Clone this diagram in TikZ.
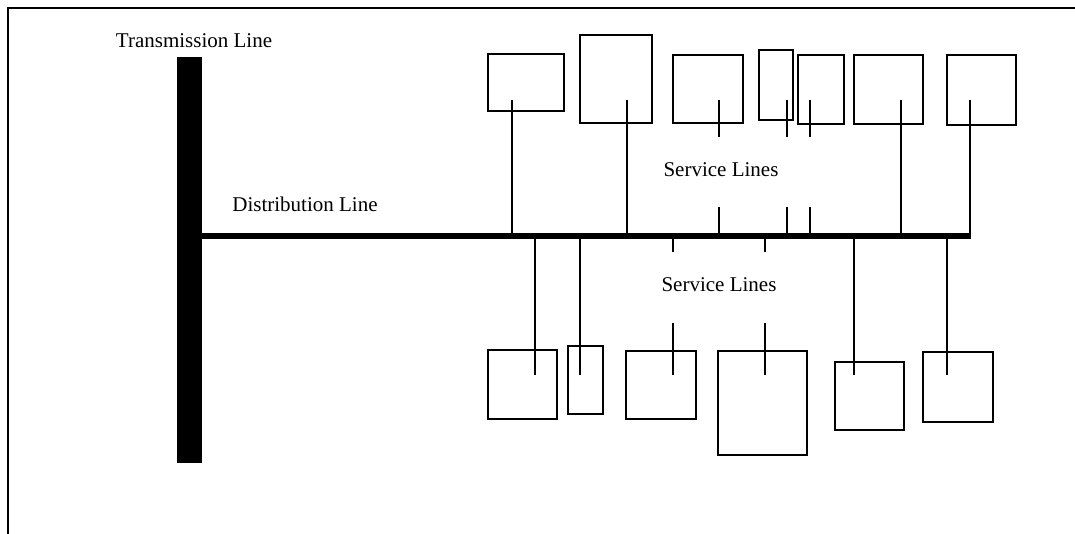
\documentclass[tikz,border=0pt]{standalone}
\usepackage{fontspec}
\setmainfont{Liberation Serif}
\usetikzlibrary{positioning}

\tikzset{
  house/.style={draw, line width=1.5pt, inner sep=0pt, outer sep=0pt},
  svcline/.style={line width=1.6pt},
  distline/.style={line width=6pt},
  lbl/.style={font=\fontsize{21}{25}\selectfont, anchor=base}
}

\begin{document}
\begin{tikzpicture}[x=1pt,y=-1pt]
  \useasboundingbox (0,0) rectangle (1075,534);
  % Frame
  \draw[line width=1.5pt] (8,534) -- (8,8) -- (1075,8);
  % Transmission line
  \node[fill=black, minimum width=25pt, minimum height=406pt, inner sep=0pt] (tline) at (189.5,260) {};
  \node[lbl] (tlab) at (194,48) {Transmission Line};
  % Distribution line
  \coordinate (dend) at (971,236);
  \draw[distline] (tline.east |- dend) -- (dend);
  \node[lbl] (dlab) at (305,212) {Distribution Line};
  % Houses above, service line straight to the house
  \foreach \n/\cx/\cy/\w/\h/\lx in {1/526/82.5/76/57/512, 2/616/79/72/88/627, 6/888.5/89.5/69/69/901, 7/981.5/90/69/70/970} {
    \node[house, minimum width=\w pt, minimum height=\h pt] (t\n) at (\cx,\cy) {};
    \coordinate (ti\n) at (\lx,100);
    \draw[svcline] (ti\n) -- (ti\n |- dend);
  }
  % Houses above, broken service line
  \foreach \n/\cx/\cy/\w/\h/\lx in {3/708/89/70/68/719, 4/776/85/34/70/787, 5/821/89.5/46/69/810} {
    \node[house, minimum width=\w pt, minimum height=\h pt] (t\n) at (\cx,\cy) {};
    \coordinate (ti\n) at (\lx,100);
    \draw[svcline] (ti\n) -- ++(0,37) (ti\n |- dend) -- ++(0,-29);
  }
  \node[lbl] (slab1) at (721,177) {Service Lines};
  % Houses below, service line straight to the house
  \foreach \n/\cx/\cy/\w/\h/\lx in {1/522.5/384.5/69/69/535, 2/585.5/380/35/68/580, 5/869.5/396/69/68/854, 6/958/387/70/70/947} {
    \node[house, minimum width=\w pt, minimum height=\h pt] (b\n) at (\cx,\cy) {};
    \coordinate (bi\n) at (\lx,375);
    \draw[svcline] (bi\n) -- (bi\n |- dend);
  }
  % Houses below, broken service line
  \foreach \n/\cx/\cy/\w/\h/\lx in {3/661/385/70/68/673, 4/762.5/403/89/104/765} {
    \node[house, minimum width=\w pt, minimum height=\h pt] (b\n) at (\cx,\cy) {};
    \coordinate (bi\n) at (\lx,375);
    \draw[svcline] (bi\n) -- ++(0,-52) (bi\n |- dend) -- ++(0,16);
  }
  \node[lbl] (slab2) at (719,292) {Service Lines};
\end{tikzpicture}
\end{document}
